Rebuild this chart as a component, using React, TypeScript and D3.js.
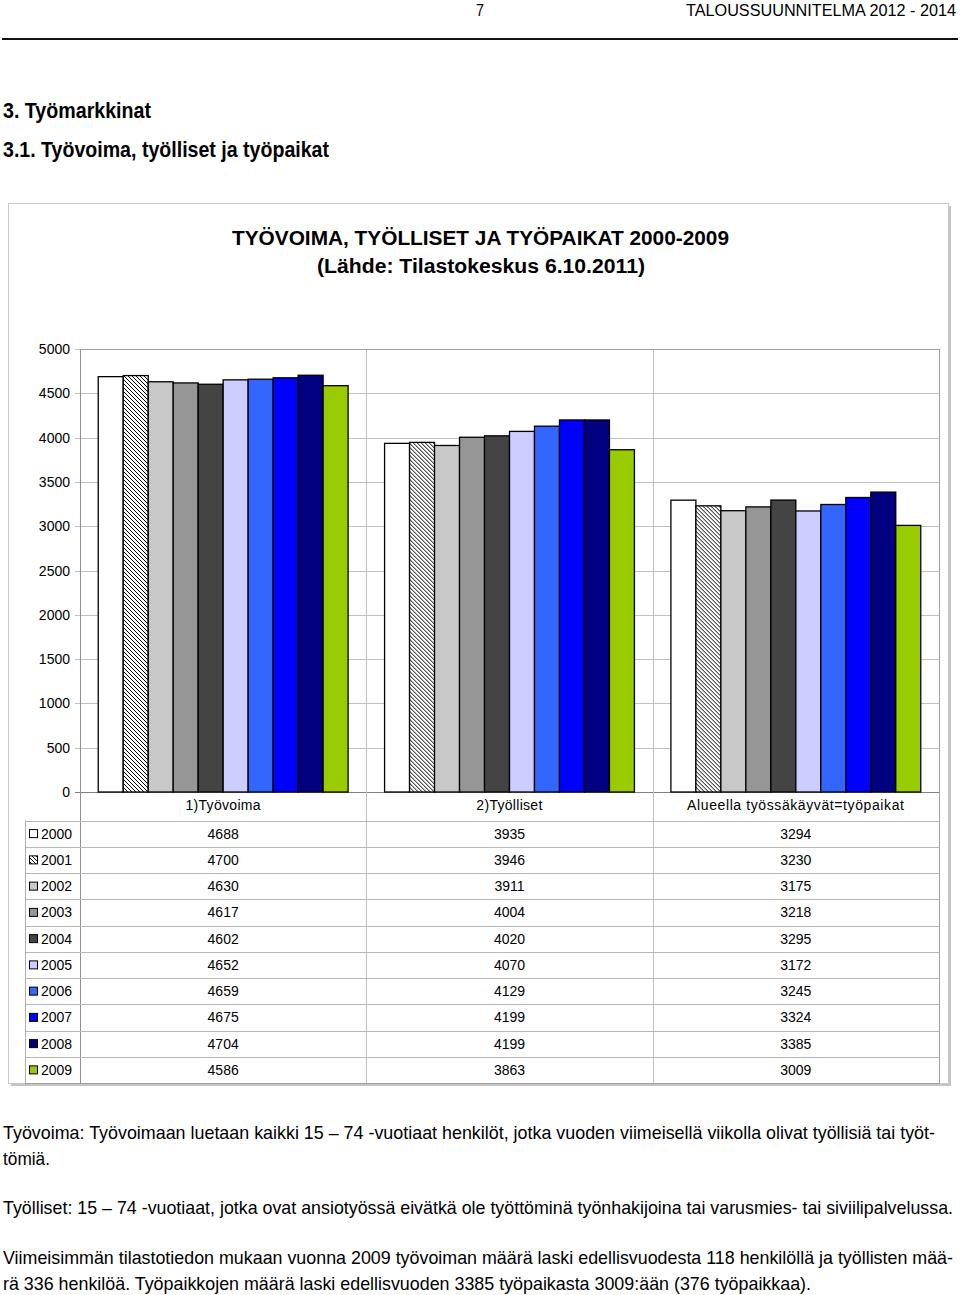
import React from "react";
import * as d3 from "d3";

const categories = ["1)Työvoima", "2)Työlliset", "Alueella työssäkäyvät=työpaikat"];
const years = ["2000", "2001", "2002", "2003", "2004", "2005", "2006", "2007", "2008", "2009"];
const tyovoima = [4688, 4700, 4630, 4617, 4602, 4652, 4659, 4675, 4704, 4586];
const tyolliset = [3935, 3946, 3911, 4004, 4020, 4070, 4129, 4199, 4199, 3863];
const tyopaikat = [3294, 3230, 3175, 3218, 3295, 3172, 3245, 3324, 3385, 3009];
const yTicks = [0, 500, 1000, 1500, 2000, 2500, 3000, 3500, 4000, 4500, 5000];
const colors = ["#ffffff", "url(#hatch)", "#c8c8c8", "#969696", "#444444", "#ccccff", "#3366ff", "#0000ff", "#000080", "#99cc00"];

const footer = [
  { t: "Työvoima: Työvoimaan luetaan kaikki 15 – 74 -vuotiaat henkilöt, jotka vuoden viimeisellä viikolla olivat työllisiä tai työt-", y: 1139, w: 932 },
  { t: "tömiä.", y: 1165, w: 47 },
  { t: "Työlliset: 15 – 74 -vuotiaat, jotka ovat ansiotyössä eivätkä ole työttöminä työnhakijoina tai varusmies- tai siviilipalvelussa.", y: 1214, w: 950 },
  { t: "Viimeisimmän tilastotiedon mukaan vuonna 2009 työvoiman määrä laski edellisvuodesta 118 henkilöllä ja työllisten mää-", y: 1264, w: 950 },
  { t: "rä 336 henkilöä. Työpaikkojen määrä laski edellisvuoden 3385 työpaikasta 3009:ään (376 työpaikkaa).", y: 1290, w: 808 },
];

export default function App() {
  const series = [tyovoima, tyolliset, tyopaikat];
  const left = 80, right = 939, top = 349, bottom = 792;
  const x0 = d3.scaleBand<string>().domain(categories).range([left, right]).paddingInner(0).paddingOuter(0);
  const x1 = d3.scaleBand<string>().domain(years).range([0, x0.bandwidth()]).paddingInner(0).paddingOuter(0.73);
  const y = d3.scaleLinear().domain([0, 5000]).range([bottom, top]);
  const rowTop = 820.5;
  const rowH = 26.25;
  const tableBottom = rowTop + rowH * years.length;
  const font = "'Liberation Sans', Arial, sans-serif";

  return (
    <svg width={960} height={1295} style={{ position: "absolute", left: 0, top: 0, background: "#fff" }} fontFamily={font}>
      <defs>
        <pattern id="hatch" patternUnits="userSpaceOnUse" width={4} height={4}>
          <rect width={4} height={4} fill="#fff" />
          <path d="M-1,-1 L5,5 M3,-1 L5,1 M-1,3 L1,5" stroke="#000" strokeWidth={1} />
        </pattern>
      </defs>
      {/* page header */}
      <text x={480} y={16} fontSize={16} textAnchor="middle" textLength={8} lengthAdjust="spacingAndGlyphs">7</text>
      <text x={686} y={16} fontSize={16} textLength={270} lengthAdjust="spacingAndGlyphs">TALOUSSUUNNITELMA 2012 - 2014</text>
      <rect x={2} y={38} width={956} height={2} fill="#111" />
      <text x={3} y={118} fontSize={22} fontWeight="bold" textLength={148} lengthAdjust="spacingAndGlyphs">3. Työmarkkinat</text>
      <text x={3} y={157} fontSize={22} fontWeight="bold" textLength={326} lengthAdjust="spacingAndGlyphs">3.1. Työvoima, työlliset ja työpaikat</text>

      {/* chart frame */}
      <rect x={948} y={206} width={3} height={880} fill="#c4c4c4" />
      <rect x={11} y={1083} width={940} height={3} fill="#c4c4c4" />
      <rect x={8.5} y={203.5} width={940} height={880} fill="none" stroke="#c8c8c8" strokeWidth={1} />

      <text x={480.5} y={245} fontSize={20} fontWeight="bold" textAnchor="middle" textLength={497} lengthAdjust="spacingAndGlyphs">TYÖVOIMA, TYÖLLISET JA TYÖPAIKAT 2000-2009</text>
      <text x={481} y={273} fontSize={20} fontWeight="bold" textAnchor="middle" textLength={328} lengthAdjust="spacingAndGlyphs">(Lähde: Tilastokeskus 6.10.2011)</text>

      {/* gridlines */}
      {yTicks.map((t) => (
        <g key={t}>
          <line x1={left - 5} x2={right} y1={Math.round(y(t)) + 0.5} y2={Math.round(y(t)) + 0.5} stroke={t === 0 ? "#808080" : "#c0c0c0"} />
          <text x={70} y={y(t) + 5} fontSize={14} textAnchor="end">{t}</text>
        </g>
      ))}
      {/* category vertical lines through plot and table */}
      {categories.map((c, i) => (
        <line key={c} x1={Math.round(x0(c)!) + 0.5} x2={Math.round(x0(c)!) + 0.5} y1={top} y2={tableBottom} stroke={i === 0 ? "#909090" : "#c0c0c0"} />
      ))}
      <line x1={right + 0.5} x2={right + 0.5} y1={top} y2={tableBottom} stroke="#a0a0a0" />
      <line x1={left} x2={right} y1={top + 0.5} y2={top + 0.5} stroke="#a0a0a0" />

      {/* bars */}
      {categories.map((c, ci) => (
        <g key={c} transform={`translate(${x0(c)},0)`}>
          {years.map((yr, yi) => (
            <rect key={yr} x={x1(yr)} y={y(series[ci][yi])} width={x1.bandwidth()} height={bottom - y(series[ci][yi])} fill={colors[yi]} stroke="#000" strokeWidth={1.3} />
          ))}
        </g>
      ))}

      {/* table */}
      {categories.map((c) => (
        <text key={c} x={x0(c)! + x0.bandwidth() / 2} y={810} fontSize={14} textAnchor="middle" letterSpacing={c.length > 20 ? 0.6 : 0.3}>{c}</text>
      ))}
      {years.map((yr, yi) => (
        <line key={"h" + yr} x1={25} x2={right} y1={Math.round(rowTop + rowH * yi) + 0.5} y2={Math.round(rowTop + rowH * yi) + 0.5} stroke="#b8b8b8" />
      ))}
      <line x1={25} x2={right + 1} y1={Math.round(tableBottom) + 0.5} y2={Math.round(tableBottom) + 0.5} stroke="#a0a0a0" />
      <line x1={25.5} x2={25.5} y1={rowTop} y2={tableBottom} stroke="#b0b0b0" />
      {years.map((yr, yi) => {
        const cy = rowTop + rowH * yi + rowH / 2;
        return (
          <g key={"r" + yr}>
            <rect x={29.5} y={cy - 4} width={8} height={8} fill={colors[yi]} stroke="#000" strokeWidth={1} />
            <text x={41} y={cy + 5} fontSize={14}>{yr}</text>
            {categories.map((c, ci) => (
              <text key={c} x={x0(c)! + x0.bandwidth() / 2} y={cy + 5} fontSize={14} textAnchor="middle">{series[ci][yi]}</text>
            ))}
          </g>
        );
      })}

      {/* footer */}
      {footer.map((f) => (
        <g key={f.y} transform={`translate(3,${f.y}) scale(1,1.19)`}>
          <text x={0} y={0} fontSize={16} textLength={f.w} lengthAdjust="spacingAndGlyphs">{f.t}</text>
        </g>
      ))}
    </svg>
  );
}
